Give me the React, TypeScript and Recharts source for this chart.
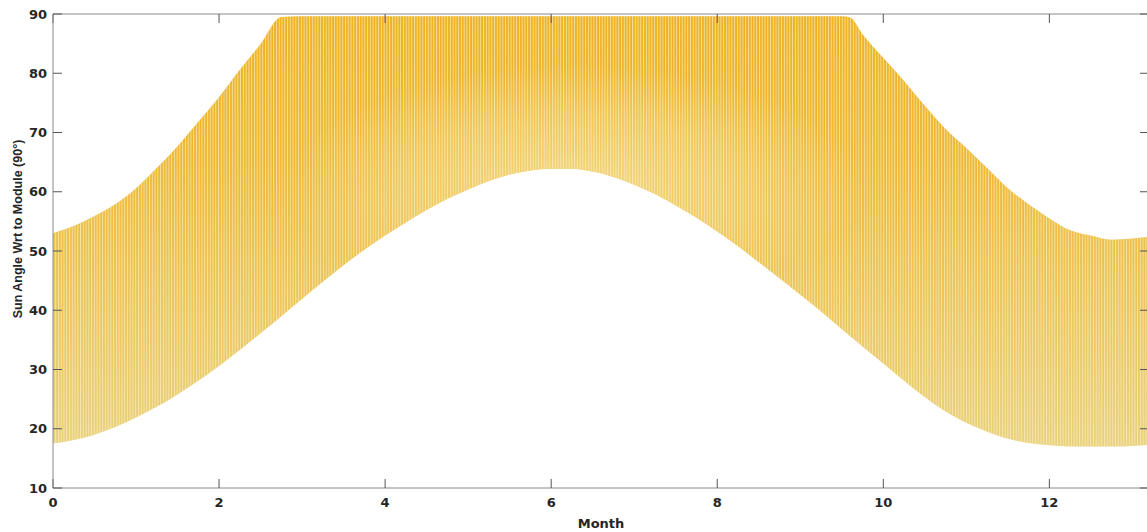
import { ComposedChart, Area, XAxis, YAxis } from "recharts";

const months = [
  0, 0.25, 0.5, 0.75, 1, 1.25, 1.5, 1.75, 2, 2.25, 2.5, 2.75, 3, 3.25, 3.5, 3.75,
  4, 4.25, 4.5, 4.75, 5, 5.25, 5.5, 5.75, 6, 6.25, 6.5, 6.75, 7, 7.25, 7.5, 7.75,
  8, 8.25, 8.5, 8.75, 9, 9.25, 9.5, 9.6, 9.75, 10, 10.25, 10.5, 10.75, 11, 11.25,
  11.5, 11.75, 12, 12.25, 12.5, 12.75, 13, 13.2,
];

// daily minimum sun angle (lower envelope)
const lowAngle = [
  17.5, 18.1, 19.0, 20.3, 21.9, 23.7, 25.8, 28.1, 30.6, 33.3, 36.1, 39.0, 41.9, 44.8, 47.6, 50.2,
  52.6, 54.8, 56.9, 58.8, 60.4, 61.8, 62.9, 63.6, 63.9, 63.9, 63.4, 62.5, 61.2, 59.6, 57.7, 55.6,
  53.3, 50.8, 48.1, 45.4, 42.6, 39.8, 36.8, 35.6, 33.9, 31.0, 28.1, 25.3, 22.9, 21.0, 19.5,
  18.3, 17.6, 17.2, 17.0, 17.0, 17.0, 17.1, 17.3,
];

// daily maximum sun angle (upper envelope, clipped near 90)
const highAngle = [
  53.0, 54.2, 55.9, 57.9, 60.6, 64.0, 67.7, 71.8, 76.0, 80.6, 84.9, 89.5, 89.6, 89.6, 89.6, 89.6,
  89.6, 89.6, 89.6, 89.6, 89.6, 89.6, 89.6, 89.6, 89.6, 89.6, 89.6, 89.6, 89.6, 89.6, 89.6, 89.6,
  89.6, 89.6, 89.6, 89.6, 89.6, 89.6, 89.6, 89.4, 86.6, 82.6, 78.7, 74.5, 70.6, 67.4, 64.0,
  60.6, 57.9, 55.5, 53.5, 52.6, 51.9, 52.1, 52.4,
];

const monthTicks = [0, 2, 4, 6, 8, 10, 12];
const angleTicks = [10, 20, 30, 40, 50, 60, 70, 80, 90];

const data = months.map((m, i) => ({ month: m, range: [lowAngle[i], highAngle[i]] }));

const tickFont = {
  fontFamily: "DejaVu Sans, sans-serif",
  fontWeight: 700,
  fontSize: 13,
  fill: "#262626",
};

const axisStroke = "#8a8a8a";
const tickStroke = "#555";

const YTitle = (props: any) => {
  const vb = props.viewBox;
  const cx = vb.x + 18;
  const cy = vb.y + vb.height / 2 - 22;
  return (
    <text
      x={cx}
      y={cy}
      transform={`rotate(-90 ${cx} ${cy})`}
      textAnchor="middle"
      dominantBaseline="central"
      fontFamily="Liberation Sans, Arial, sans-serif"
      fontWeight={700}
      fontSize={12.5}
      fill="#262626"
    >
      Sun Angle Wrt to Module (90°)
    </text>
  );
};

const XTitle = (props: any) => {
  const vb = props.viewBox;
  return (
    <text
      x={vb.x + vb.width / 2}
      y={vb.y + 39.5}
      textAnchor="middle"
      fontFamily="DejaVu Sans, sans-serif"
      fontWeight={700}
      fontSize={13}
      fill="#262626"
    >
      Month
    </text>
  );
};

export default function App() {
  return (
    <div
      style={{
        position: "absolute",
        left: 0,
        top: 0,
        width: 1147,
        height: 532,
        overflow: "hidden",
        background: "#fff",
      }}
    >
      <ComposedChart
        width={1160}
        height={532}
        data={data}
        margin={{ top: 13, right: 10, left: 0, bottom: 0 }}
      >
        <defs>
          <linearGradient id="sunFill" gradientUnits="userSpaceOnUse" x1="0" y1="14" x2="0" y2="446">
            <stop offset="0" stopColor="#EDB020" />
            <stop offset="0.35" stopColor="#EDB733" />
            <stop offset="0.65" stopColor="#EBC458" />
            <stop offset="1" stopColor="#E8D07E" />
          </linearGradient>
          <radialGradient
            id="midGlow"
            gradientUnits="userSpaceOnUse"
            cx="575"
            cy="185"
            r="120"
            gradientTransform="translate(575 185) scale(2.4 1) translate(-575 -185)"
          >
            <stop offset="0" stopColor="#F2DB8E" stopOpacity="0.85" />
            <stop offset="0.6" stopColor="#F2D886" stopOpacity="0.45" />
            <stop offset="1" stopColor="#F2D886" stopOpacity="0" />
          </radialGradient>
          <pattern id="dayStripes" patternUnits="userSpaceOnUse" width="2.76" height="8">
            <rect x="0" y="0" width="1" height="8" fill="#FBF1C4" fillOpacity="0.7" />
          </pattern>
        </defs>
        <XAxis
          xAxisId="bottom"
          type="number"
          dataKey="month"
          domain={[0, 13.2]}
          allowDataOverflow
          ticks={monthTicks}
          height={44}
          tickSize={-9}
          tickMargin={19}
          tick={tickFont}
          axisLine={{ stroke: axisStroke }}
          tickLine={{ stroke: tickStroke }}
          label={{ content: XTitle }}
        />
        <XAxis
          xAxisId="top"
          orientation="top"
          type="number"
          dataKey="month"
          domain={[0, 13.2]}
          allowDataOverflow
          ticks={monthTicks}
          height={1}
          tickSize={-9}
          tickFormatter={() => ""}
          axisLine={{ stroke: axisStroke }}
          tickLine={{ stroke: tickStroke }}
        />
        <YAxis
          yAxisId="left"
          type="number"
          domain={[10, 90]}
          allowDataOverflow
          ticks={angleTicks}
          width={53}
          tickSize={-9}
          tickMargin={15}
          tick={tickFont}
          axisLine={{ stroke: axisStroke }}
          tickLine={{ stroke: tickStroke }}
          label={{ content: YTitle }}
        />
        <YAxis
          yAxisId="right"
          orientation="right"
          type="number"
          domain={[10, 90]}
          allowDataOverflow
          ticks={angleTicks}
          width={1}
          tickSize={-9}
          tickFormatter={() => ""}
          axisLine={{ stroke: axisStroke }}
          tickLine={{ stroke: tickStroke }}
        />
        <Area
          xAxisId="bottom"
          yAxisId="left"
          type="monotone"
          dataKey="range"
          stroke="none"
          fill="url(#sunFill)"
          fillOpacity={1}
          isAnimationActive={false}
        />
        <Area
          xAxisId="bottom"
          yAxisId="left"
          type="monotone"
          dataKey="range"
          stroke="none"
          fill="url(#midGlow)"
          fillOpacity={1}
          isAnimationActive={false}
        />
        <Area
          xAxisId="top"
          yAxisId="right"
          type="monotone"
          dataKey="range"
          stroke="none"
          fill="url(#dayStripes)"
          fillOpacity={1}
          isAnimationActive={false}
        />
      </ComposedChart>
    </div>
  );
}
